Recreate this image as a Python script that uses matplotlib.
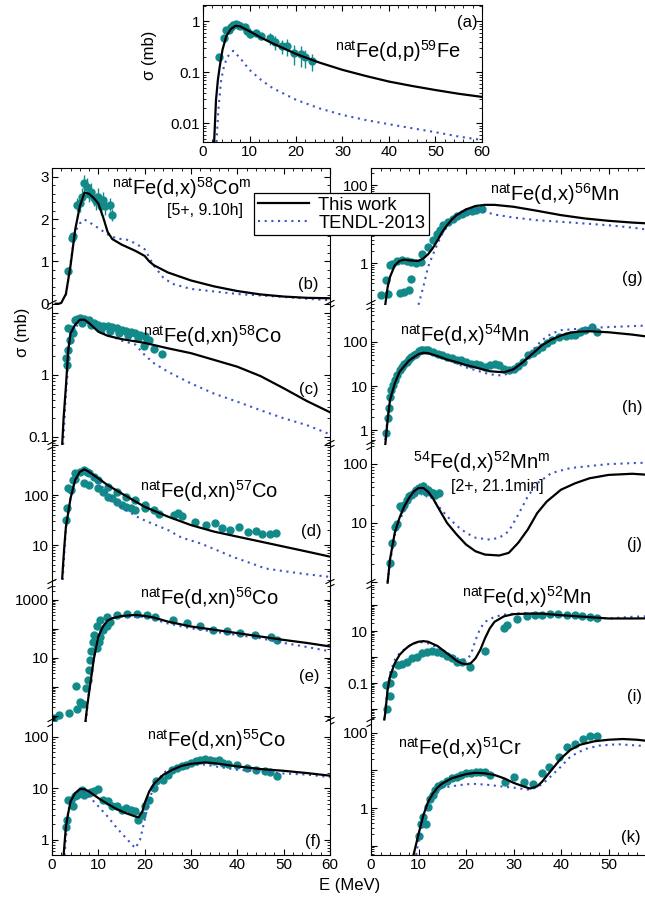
import numpy as np
import matplotlib.pyplot as plt
from matplotlib.ticker import LogLocator, MultipleLocator, NullFormatter

plt.rcParams['font.family'] = ['Liberation Sans', 'DejaVu Sans']
plt.rcParams['mathtext.fontset'] = 'custom'
plt.rcParams['mathtext.rm'] = 'Liberation Sans'
plt.rcParams['mathtext.it'] = 'Liberation Sans:italic'
plt.rcParams['mathtext.bf'] = 'Liberation Sans:bold'
plt.rcParams['axes.linewidth'] = 0.8

FIT_C = 'black'
TENDL_C = '#3a55c8'
EXP_C = '#138a8a'

# ---------------- (a) natFe(d,p)59Fe
a_E_fit = [2.4, 2.8, 3.2, 3.6, 4.2, 5, 6, 7, 8, 10, 12.5, 15, 20, 25, 30, 35, 40, 45, 50, 55, 60]
a_fit = [0.0044, 0.029, 0.071, 0.13, 0.28, 0.51, 0.71, 0.82, 0.80, 0.64, 0.48, 0.37, 0.23, 0.156,
         0.112, 0.085, 0.066, 0.054, 0.045, 0.038, 0.033]
a_E_tendl = [2.9, 3.3, 3.9, 4.5, 5.2, 6.5, 8, 10, 12.5, 15, 20, 25, 30, 35, 40, 45, 50, 55, 60]
a_tendl = [0.0043, 0.018, 0.071, 0.13, 0.2, 0.265, 0.19, 0.112, 0.071, 0.049, 0.029, 0.0197,
           0.0146, 0.0116, 0.0096, 0.008, 0.0067, 0.0055, 0.0047]
a_E_exp = [3.4, 4.5, 5.0, 5.5, 6.0, 6.5, 7.0, 7.5, 8.0, 9.0, 9.5, 10.0, 11.5, 12.5, 14.5, 15.5,
           17.0, 18.0, 19.5, 21.0, 22.0, 23.5]
a_exp = [0.2, 0.47, 0.68, 0.68, 0.77, 0.84, 0.9, 0.86, 0.8, 0.78, 0.64, 0.57, 0.58, 0.52, 0.47,
         0.39, 0.33, 0.33, 0.24, 0.23, 0.2, 0.165]
a_err = [0.03, 0.06, 0.08, 0.08, 0.1, 0.1, 0.12, 0.12, 0.1, 0.1, 0.1, 0.1, 0.08, 0.08, 0.12, 0.12,
         0.1, 0.12, 0.1, 0.1, 0.08, 0.06]

# ---------------- (b) natFe(d,x)58Co^m
b_E_fit = [0.8, 1.5, 2, 3, 4, 5, 6, 7, 8, 9, 10, 11, 12, 13, 15, 18, 20, 21, 22, 25, 30, 35, 40,
           45, 50, 55, 60]
b_fit = [0.0, 0.0, 0.02, 0.23, 0.9, 1.75, 2.3, 2.63, 2.6, 2.5, 2.37, 2.06, 1.7, 1.53, 1.4, 1.25,
         1.13, 1.0, 0.91, 0.74, 0.55, 0.41, 0.3, 0.22, 0.17, 0.14, 0.13]
b_E_tendl = [3, 3.5, 4, 5, 6, 7, 8, 10, 12, 14, 16, 18, 20, 22, 24, 26, 30, 35, 40, 50, 60]
b_tendl = [0.2, 0.55, 0.97, 1.7, 1.9, 1.99, 1.93, 1.79, 1.64, 1.54, 1.52, 1.43, 1.29, 0.9, 0.62,
           0.47, 0.35, 0.29, 0.23, 0.16, 0.08]
b_E_exp = [3.5, 4.3, 4.6, 5.5, 6.0, 6.5, 7.0, 7.5, 8.0, 8.5, 9.0, 9.5, 10.0, 10.5, 11.0, 11.5,
           12.5, 13.0]
b_exp = [0.78, 1.56, 1.6, 2.34, 2.38, 2.53, 2.85, 2.77, 2.6, 2.65, 2.5, 2.42, 2.53, 2.3, 2.45, 2.3,
         2.34, 2.1]
b_err = [0.05, 0.08, 0.08, 0.15, 0.2, 0.2, 0.2, 0.2, 0.2, 0.2, 0.2, 0.2, 0.2, 0.2, 0.2, 0.2, 0.15,
         0.15]

# ---------------- (c) natFe(d,xn)58Co
c_E_fit = [2.2, 2.5, 3, 3.5, 4, 5, 6, 7, 8, 10, 12, 15, 20, 25, 30, 35, 40, 45, 50, 55, 60]
c_fit = [0.075, 0.2, 0.65, 2.5, 4.7, 6.5, 7.8, 7.8, 6.9, 5.0, 4.3, 3.8, 3.3, 2.7, 2.25, 1.75, 1.36,
         0.96, 0.61, 0.38, 0.25]
c_E_tendl = [2.4, 3, 4, 6, 7, 10, 15, 18, 20, 22, 25, 30, 35, 40, 45, 50, 55, 60]
c_tendl = [0.075, 0.5, 4.2, 7.5, 7.5, 5.2, 3.6, 3.1, 2.1, 1.55, 1.13, 0.73, 0.5, 0.37, 0.27, 0.2,
           0.155, 0.11]
c_E_exp = [3.0, 3.3, 3.5, 3.5, 3.8, 4.0, 4.5, 5.0, 5.5, 6.0, 7.0, 8.0, 9.0, 10, 11, 12, 13, 14, 15,
           16, 17, 18, 19, 20, 21, 19.8, 22, 23.7, 6.5, 8.5, 10.5, 12.5, 14.5, 16.5, 18.5, 20.5]
c_exp = [1.86, 1.45, 2.54, 5.7, 3.7, 5.5, 4.7, 7.8, 8.0, 8.3, 8.0, 7.6, 6.9, 6.5, 6.2, 6.1, 5.9, 5.7,
         5.4, 5.2, 5.0, 4.7, 4.5, 4.2, 3.7, 2.9, 2.6, 2.2, 7.0, 6.3, 5.6, 5.2, 4.8, 4.4, 4.0, 3.6]

# ---------------- (d) natFe(d,xn)57Co
d_E_fit = [2.2, 2.6, 3, 4, 5, 6, 7, 8, 10, 12, 15, 20, 25, 30, 35, 40, 45, 50, 55, 60]
d_fit = [2.15, 7.9, 23, 86, 200, 290, 326, 290, 215, 158, 108, 58, 37, 25, 18.5, 14.7, 11.7, 9.3,
         7.4, 5.85]
d_E_tendl = [2.3, 3, 4, 5, 6, 7, 8, 10, 12, 14, 16, 19, 22, 25, 28, 32, 36, 39, 43, 46, 50, 55, 60]
d_tendl = [2.0, 22, 85, 215, 300, 316, 270, 180, 110, 68, 50, 34, 26, 20, 14, 10.8, 7.6, 5.8, 4.3,
           3.4, 3.0, 2.6, 2.3]
d_E_exp = [3.0, 3.3, 3.5, 4.0, 4.5, 5.0, 5.0, 6.0, 7.0, 7.5, 8.0, 9.0, 10, 12, 14, 16, 18, 20, 22,
           7.0, 8.0, 10, 11, 12, 13, 14, 15, 16, 17, 18, 20, 23, 26.4, 27.3, 28, 30.9, 33.3, 35.2,
           36.6, 38.4, 40.4, 42.4, 44, 45.3, 47.1, 48.4]
d_exp = [32, 54, 136, 126, 200, 206, 270, 293, 316, 293, 270, 233, 200, 147, 116, 93, 79, 63, 50,
         171, 158, 136, 116, 93, 86, 74, 63, 58, 54, 50, 54, 42, 40, 43, 38, 29, 25, 27, 21.5, 20,
         22.5, 18.5, 19, 16.6, 16.6, 17.6]

# ---------------- (e) natFe(d,xn)56Co
e_E_fit = [7.2, 7.6, 8, 8.5, 9, 10, 11, 12, 13, 15, 18, 20, 22, 25, 30, 35, 40, 45, 50, 55, 60]
e_fit = [0.06, 0.22, 0.63, 2.35, 8.8, 55, 122, 195, 235, 280, 305, 282, 248, 180, 122, 94, 72, 55,
         42, 33, 25]
e_E_tendl = [7.3, 8, 9, 10, 12, 15, 20, 25, 30, 40, 45, 50, 55, 60]
e_tendl = [0.06, 0.8, 10, 63, 215, 265, 265, 155, 105, 62, 48, 33, 24, 17]
e_E_exp = [0.5, 1.5, 3.6, 5.4, 6.0, 5.2, 6.7, 7.4, 7.7, 7.9, 8.1, 8.4, 8.8, 9.0, 9.7, 10.1, 10.4,
           11.1, 11.9, 12.6, 9.7, 10.4, 11.9, 14, 16.2, 18.3, 20.5, 22.3, 26.2, 29.1, 32, 34.8, 37.7,
           40.6, 43.8, 47.2, 48.5]
e_exp = [0.088, 0.107, 0.13, 0.17, 0.3, 1.1, 0.25, 0.93, 1.8, 4.0, 8.8, 17, 37, 63, 22, 37, 55, 94,
         122, 180, 122, 206, 268, 305, 330, 330, 305, 268, 206, 158, 122, 94, 82, 72, 63, 51, 42]

# ---------------- (f) natFe(d,xn)55Co
f_E_fit = [2.5, 3, 3.5, 4, 5, 6, 7, 8, 10, 12, 14, 16, 18, 18.7, 19.5, 20, 21, 22, 24, 26, 28, 30,
           33, 35, 40, 45, 50, 55, 60]
f_fit = [0.5, 1.8, 3.3, 5.6, 8.1, 9.7, 9.7, 8.7, 6.5, 5.0, 3.96, 3.3, 2.85, 2.75, 3.56, 5.2, 8.8,
         12.3, 18.4, 23, 27.5, 30, 32, 31, 26.8, 23.8, 22, 19.9, 17.7]
f_E_tendl = [2.7, 3.5, 5, 6, 7, 8, 10, 12, 14, 16, 17, 18, 19, 20, 21, 22, 24, 26, 28, 30, 33, 35,
             40, 45, 50, 55, 60]
f_tendl = [0.5, 3.8, 8.1, 9.4, 8.7, 7, 4.5, 2.85, 1.7, 1.08, 0.86, 0.69, 1.0, 2.45, 6, 11, 20, 25,
           28, 29, 29, 27, 23, 21.5, 19.5, 18.6, 16.6]
f_E_exp = [3, 3.2, 3.5, 4, 4.5, 5, 5.5, 6, 6.5, 7, 8, 8.5, 9, 10, 11, 12, 13, 14, 15, 16, 17, 18,
           18.5, 19.5, 20, 21, 22, 22.5, 24, 25, 26, 27, 28, 29, 30, 31, 32, 33, 34, 35, 36, 37, 38,
           40, 42, 44, 46, 47, 48.5]
f_exp = [1.8, 2.45, 6.0, 6.0, 4.5, 7.0, 7.5, 8.1, 9.4, 7.5, 8.1, 8.7, 9.1, 9.7, 6.0, 5.6, 4.6, 4.5,
         3.8, 4.1, 3.8, 3.6, 2.45, 3.1, 4.5, 6.0, 10.1, 13.7, 14.8, 18.5, 23, 24.8, 26.8, 29, 31,
         33.5, 36, 37, 36, 33.5, 36, 31, 30, 29, 25, 23, 21.5, 20.5, 17.7]

# ---------------- (g) natFe(d,x)56Mn
g_E_fit = [3, 3.5, 4, 5, 6, 7, 8, 9, 10, 11, 12, 13, 14, 15, 16, 17, 18, 20, 22, 24, 26, 30, 35,
           40, 45, 50, 55, 60]
g_fit = [0.085, 0.24, 0.44, 0.87, 1.13, 1.22, 1.17, 1.15, 1.13, 1.3, 1.67, 2.4, 3.8, 6.3, 9.3, 13,
         16.9, 23.6, 29, 31, 31, 27.7, 21.8, 16.9, 13.9, 12.1, 10.9, 10.1]
g_E_tendl = [10, 11, 12, 13, 14, 15, 16, 18, 20, 22, 24, 26, 30, 35, 40, 45, 50, 55, 60]
g_tendl = [0.085, 0.24, 0.79, 1.6, 3.1, 5.7, 8.5, 15, 22, 25, 20.6, 17.5, 14.7, 12.5, 11.4, 10.3,
           9.3, 8.1, 6.7]
g_E_exp = [2.0, 3.2, 4.0, 4.5, 5.5, 6.5, 7.5, 8.5, 9.5, 10.5, 3.5, 6.0, 7.0, 8.0, 8.5, 10.7, 12.0,
           13.1, 13.8, 14.5, 15.2, 16.3, 17.2, 18.0, 19.1, 20.1, 21.2, 22.1, 23.3]
g_exp = [0.15, 0.36, 0.87, 0.95, 1.1, 1.2, 1.1, 1.05, 1.0, 1.05, 0.16, 0.17, 0.18, 0.2, 0.4, 1.74,
         2.6, 3.8, 5.7, 6.9, 9.3, 11.4, 13.8, 15.9, 18.6, 20.6, 21.8, 22.7, 23.6]

# ---------------- (h) natFe(d,x)54Mn
h_E_fit = [3, 3.5, 4, 5, 6, 8, 10, 11, 12, 14, 16, 18, 20, 22, 25, 28, 30, 32, 34, 36, 38, 40, 42,
           44, 46, 50, 55, 60]
h_fit = [0.46, 1.7, 4.8, 11.4, 21, 38, 53, 57, 56, 48, 40, 35, 30, 26.5, 21.7, 20.5, 24, 35, 54, 84,
         113, 140, 163, 172, 175, 166, 147, 125]
h_E_tendl = [3, 3.5, 4, 6, 10, 12, 15, 20, 25, 27.5, 30, 32, 34, 36, 38, 40, 45, 50, 60]
h_tendl = [0.6, 2, 5, 22, 55, 55, 44, 26.5, 18.5, 17.3, 21, 32, 65, 110, 155, 185, 205, 218, 240]
h_E_exp = [3.2, 3.5, 3.8, 4.0, 4.3, 4.6, 5, 5.5, 6, 6.5, 7, 7.5, 8, 8.5, 9, 9.5, 10, 10.5, 11, 11.5,
           12, 13, 14, 15, 16, 17, 18, 19, 20, 21, 22, 23, 24, 25, 26, 27, 28, 29, 30, 31, 32, 33,
           34, 35, 36, 37, 38, 39.5, 41, 42, 43, 44, 45, 46.5, 47.5]
h_exp = [0.84, 1.84, 3.1, 5.7, 8.1, 10.4, 13.5, 17.6, 22.8, 27, 32, 35, 42, 46, 50, 54, 63, 65, 67,
         67, 65, 59, 54, 50, 46, 44, 40, 38, 35, 32, 31, 30, 27, 30, 32, 30, 25, 23, 25, 28, 35, 50,
         56, 67, 77, 95, 113, 130, 134, 141, 141, 168, 184, 218, 168]

# ---------------- (j) 54Fe(d,x)52Mn^m
j_E_fit = [3.5, 4, 5, 6, 7, 8, 9, 10, 11, 12, 13, 14, 16, 18, 20, 22, 24, 27, 29, 31, 33, 35, 37,
           40, 43, 46, 50, 55, 60]
j_fit = [0.97, 2.4, 6.8, 12.2, 19, 26.4, 34, 39, 39, 34, 26.4, 19, 10, 6.4, 4.3, 3.3, 2.9, 2.8, 3.1,
         4.6, 7.7, 14.7, 23, 36.5, 47, 57, 65, 68, 64]
j_E_tendl = [3.5, 4, 5, 6, 8, 10, 12, 14, 16, 18, 20, 22, 25, 27, 29, 31, 33, 35, 38, 42, 46, 50,
             55, 60]
j_tendl = [1.0, 2.1, 6.2, 11, 24, 36, 31, 20, 13, 9, 6.8, 5.6, 5.2, 5.6, 7.2, 13.8, 28, 47, 70, 85,
           92, 99, 103, 106]
j_E_exp = [4.0, 4.5, 5.0, 5.5, 6.0, 6.5, 7.0, 7.5, 8.0, 8.5, 9.0, 9.5, 10.0, 10.5, 11.0, 11.5, 12.0,
           12.5, 13.0, 13.5, 14.3]
j_exp = [2.1, 4.6, 8.6, 9.4, 19, 17.9, 20, 24.7, 28, 30, 32, 36.5, 39, 36.5, 41.5, 34, 36.5, 34, 32,
         30, 32]
j_err = [0.3, 0.8, 1.5, 1.5, 3, 3, 3, 4, 5, 5, 6, 7, 8, 7, 8, 7, 7, 6, 6, 5, 5]

# ---------------- (i) natFe(d,x)52Mn
i_E_fit = [2.8, 3, 3.5, 4, 5, 6, 7, 8, 9, 10, 11, 12, 14, 16, 18, 19, 20, 21, 22, 23, 24, 25, 26,
           28, 30, 33, 36, 40, 45, 50, 55, 60]
i_fit = [0.004, 0.007, 0.056, 0.18, 0.58, 1.21, 1.88, 2.67, 3.38, 3.9, 4.1, 3.9, 2.67, 1.4, 0.73,
         0.58, 0.53, 0.58, 0.9, 1.88, 5.3, 12.6, 22.7, 37, 44.7, 46.8, 46.8, 40.8, 35.3, 30.5, 30.5,
         31]
i_E_tendl = [2.8, 3.5, 4, 5, 6, 8, 10, 12, 14, 16, 18, 20, 21, 22, 23, 24, 26, 28, 32, 40, 45, 50,
             55, 60]
i_tendl = [0.004, 0.065, 0.24, 0.78, 1.4, 2.67, 3.9, 3.38, 2.37, 1.32, 0.9, 0.78, 1.21, 4.5, 12.6,
           22.7, 35.3, 43, 50, 41, 35.3, 30.5, 35.3, 38.5]
i_E_exp = [3.3, 3.2, 3.9, 4.0, 4.7, 5.75, 6.5, 7.5, 8.6, 9.6, 10.7, 11.7, 12.8, 13.8, 14.9, 15.9,
           17, 18, 19.1, 20.8, 24, 27.9, 28.6, 30.7, 32.8, 34.5, 35.9, 37.7, 39.4, 41.2, 42.9, 44.4,
           46.1, 47.5]
i_exp = [0.01, 0.087, 0.031, 0.105, 0.23, 0.5, 0.53, 0.67, 0.9, 1.05, 1.4, 1.6, 1.7, 1.6, 1.4, 1.1,
         0.9, 0.67, 0.62, 0.41, 1.77, 12.6, 17, 27.9, 37.5, 40.8, 40.8, 47, 47, 40.8, 40.8, 37.5,
         35.3, 30.5]

# ---------------- (k) natFe(d,x)51Cr
k_E_fit = [8.9, 10, 11, 12, 13, 14, 15, 17, 20, 22, 24, 26, 28, 30, 32, 33.5, 35, 36, 38, 40, 42,
           44, 47, 50, 53, 56, 60]
k_fit = [0.053, 0.2, 0.63, 1.45, 2.4, 3.5, 4.5, 6.2, 8.0, 8.7, 8.4, 7.6, 6.2, 4.7, 3.8, 3.3, 3.8,
         5.0, 10.3, 21, 35.6, 48.5, 60, 66, 69, 66, 58]
k_E_tendl = [9.5, 10, 11, 12, 13, 14, 15, 17, 20, 22, 25, 28, 30, 33, 35, 37, 40, 42, 45, 48, 52, 60]
k_tendl = [0.056, 0.13, 0.52, 1.3, 2.2, 3.0, 3.5, 3.8, 4.3, 4.4, 4.1, 3.7, 3.5, 3.1, 3.5, 5.5, 12.7,
           23.6, 37, 46, 50, 43]
k_E_exp = [10, 10.5, 11, 11.5, 12, 12.5, 13, 13.5, 14, 15, 16, 17, 18, 19, 20, 21, 22, 23, 24, 25,
           28.2, 30.1, 32.2, 34.2, 35.9, 37.5, 39.6, 41.3, 43, 44.6, 46.1, 47.5]
k_exp = [0.18, 0.38, 0.57, 0.38, 1.06, 1.78, 2.2, 3.0, 3.8, 4.5, 5.3, 6.2, 6.8, 7.6, 8.4, 8.8, 9.3,
         9.3, 9.3, 7.6, 5.0, 6.8, 5.0, 4.5, 8.4, 12.7, 23.6, 42, 50.5, 69, 81, 85]

W, H = 645, 897
fig = plt.figure(figsize=(W / 100, H / 100), dpi=100)


def box(l, t, r, b):
    return [l / W, 1 - b / H, (r - l) / W, (b - t) / H]


def style(ax, ylim, yticks, ylabels, log=True, xlabels=False, xlab60=True):
    ax.set_xlim(0, 60)
    ax.set_xticks([0, 10, 20, 30, 40, 50, 60],
                  ['0', '10', '20', '30', '40', '50', '60' if xlab60 else ''])
    ax.xaxis.set_minor_locator(MultipleLocator(2))
    if log:
        ax.set_yscale('log')
    ax.set_yticks(yticks, ylabels)
    if log:
        ax.yaxis.set_minor_locator(LogLocator(base=10, subs=np.arange(2, 10), numticks=30))
        ax.yaxis.set_minor_formatter(NullFormatter())
    else:
        ax.yaxis.set_minor_locator(MultipleLocator(0.2))
    ax.set_xlim(0, 60)
    ax.set_ylim(*ylim)
    ax.tick_params(which='both', direction='in', top=True, right=True, labelsize=11, pad=2)
    ax.tick_params(which='major', length=4)
    ax.tick_params(which='minor', length=2)
    if not xlabels:
        ax.tick_params(labelbottom=False)


def draw(ax, Ef, vf, Et, vt, Ee, ve, yerr=None):
    l1, = ax.plot(Ef, vf, color=FIT_C, lw=1.6, label='This work', zorder=3)
    l2, = ax.plot(Et, vt, color=TENDL_C, lw=1.5, ls=(0, (1, 2.2)), label='TENDL-2013', zorder=2)
    if yerr is None:
        ax.plot(Ee, ve, 'o', color=EXP_C, ms=5, zorder=1)
    else:
        ax.errorbar(Ee, ve, yerr=yerr, fmt='o', color=EXP_C, ms=5, elinewidth=1, capsize=0, zorder=1)
    return l1, l2


def breaks(ax, wpx, hpx):
    # small "//" marks where the stacked panels meet
    dx, dy, g = 4.0 / wpx, 2.0 / hpx, 2.5 / hpx
    for x in (0, 1):
        for off in (-g, g):
            ax.plot([x - dx, x + dx], [off - dy, off + dy], transform=ax.transAxes,
                    color='k', lw=0.8, clip_on=False, zorder=6)


# ---------------- panel (a)
ax = fig.add_axes(box(203, 5, 482, 142))
draw(ax, a_E_fit, a_fit, a_E_tendl, a_tendl, a_E_exp, a_exp, a_err)
style(ax, (0.0043, 2.1), [0.01, 0.1, 1], ['0.01', '0.1', '1'], xlabels=True)
ax.set_ylabel('σ (mb)', fontsize=12)
ax.yaxis.set_label_coords(-0.165, 0.63)

rows = [(168, 305), (305, 445), (445, 584), (584, 722), (722, 855)]
left_col = (52, 330)
right_col = (371, 656)

panels = [
    # column, row, data, ylim, ticks, labels, log, err
    (left_col, 0, (b_E_fit, b_fit, b_E_tendl, b_tendl, b_E_exp, b_exp), (-0.03, 3.21),
     [0, 1, 2, 3], ['0', '1', '2', '3'], False, b_err),
    (left_col, 1, (c_E_fit, c_fit, c_E_tendl, c_tendl, c_E_exp, c_exp), (0.074, 13.5),
     [0.1, 1, 10], ['0.1', '1', ''], True, None),
    (left_col, 2, (d_E_fit, d_fit, d_E_tendl, d_tendl, d_E_exp, d_exp), (1.66, 1000),
     [10, 100, 1000], ['10', '100', ''], True, None),
    (left_col, 3, (e_E_fit, e_fit, e_E_tendl, e_tendl, e_E_exp, e_exp), (0.062, 3560),
     [0.1, 1, 10, 100, 1000], ['', '', '10', '', '1000'], True, None),
    (left_col, 4, (f_E_fit, f_fit, f_E_tendl, f_tendl, f_E_exp, f_exp), (0.51, 195),
     [1, 10, 100], ['1', '10', '100'], True, None),
    (right_col, 0, (g_E_fit, g_fit, g_E_tendl, g_tendl, g_E_exp, g_exp), (0.084, 273),
     [1, 10, 100], ['1', '', '100'], True, None),
    (right_col, 1, (h_E_fit, h_fit, h_E_tendl, h_tendl, h_E_exp, h_exp), (0.46, 690),
     [1, 10, 100], ['1', '10', '100'], True, None),
    (right_col, 2, (j_E_fit, j_fit, j_E_tendl, j_tendl, j_E_exp, j_exp), (0.92, 209),
     [1, 10, 100], ['', '10', '100'], True, j_err),
    (right_col, 3, (i_E_fit, i_fit, i_E_tendl, i_tendl, i_E_exp, i_exp), (0.0032, 645),
     [0.01, 0.1, 1, 10, 100], ['', '0.1', '', '10', ''], True, None),
    (right_col, 4, (k_E_fit, k_fit, k_E_tendl, k_tendl, k_E_exp, k_exp), (0.056, 196),
     [0.1, 1, 10, 100], ['', '1', '', '100'], True, None),
]

handles = None
for col, r, dat, ylim, ticks, labels, log, err in panels:
    top, bot = rows[r]
    ax = fig.add_axes(box(col[0], top, col[1], bot))
    hl = draw(ax, *dat, yerr=err)
    if handles is None:
        handles = hl
    style(ax, ylim, ticks, labels, log=log, xlabels=(r == 4), xlab60=(col is left_col))
    if r > 0:
        ax.spines['top'].set_visible(False)
        ax.tick_params(which='both', top=False)
    if r < 4:
        ax.spines['bottom'].set_visible(False)
        ax.tick_params(which='both', bottom=False)
        breaks(ax, col[1] - col[0], bot - top)

# ---------------- reaction labels
def flab(x, y, s, size=14.5, ha='left'):
    fig.text(x / W, 1 - y / H, s, fontsize=size, ha=ha, va='center')


flab(335, 51, r'$^{\mathrm{nat}}$Fe(d,p)$^{59}$Fe')
flab(112, 188, r'$^{\mathrm{nat}}$Fe(d,x)$^{58}$Co$^{\mathrm{m}}$')
flab(205, 211, '[5+, 9.10h]', size=11.5, ha='center')
flab(143, 336, r'$^{\mathrm{nat}}$Fe(d,xn)$^{58}$Co')
flab(140, 491, r'$^{\mathrm{nat}}$Fe(d,xn)$^{57}$Co')
flab(140, 598, r'$^{\mathrm{nat}}$Fe(d,xn)$^{56}$Co')
flab(147, 740, r'$^{\mathrm{nat}}$Fe(d,xn)$^{55}$Co')
flab(490, 194, r'$^{\mathrm{nat}}$Fe(d,x)$^{56}$Mn')
flab(400, 335, r'$^{\mathrm{nat}}$Fe(d,x)$^{54}$Mn')
flab(413, 462, r'$^{54}$Fe(d,x)$^{52}$Mn$^{\mathrm{m}}$')
flab(497, 486, '[2+, 21.1min]', size=11.5, ha='center')
flab(462, 597, r'$^{\mathrm{nat}}$Fe(d,x)$^{52}$Mn')
flab(398, 748, r'$^{\mathrm{nat}}$Fe(d,x)$^{51}$Cr')

# panel letters
for s, x, y in [('(a)', 467, 22), ('(b)', 308, 285), ('(c)', 309, 389), ('(d)', 311, 531),
                ('(e)', 309, 677), ('(f)', 313, 841), ('(g)', 632, 278), ('(h)', 632, 407),
                ('(j)', 634, 545), ('(i)', 634, 696), ('(k)', 631, 837)]:
    flab(x, y, s, size=12, ha='center')

fig.text(22 / W, 1 - 332 / H, 'σ (mb)', fontsize=12, rotation=90, ha='center', va='center')
fig.text(350 / W, 1 - 885 / H, 'E (MeV)', fontsize=12, ha='center', va='center')

leg = fig.legend(handles=list(handles), loc='upper left', bbox_to_anchor=(254 / W, 1 - 193 / H),
                 frameon=True, fancybox=False, edgecolor='k', framealpha=1, fontsize=13.2,
                 handlelength=2.8, borderaxespad=0, borderpad=0.2, labelspacing=0.05,
                 handletextpad=0.5)
leg.get_frame().set_linewidth(0.9)

fig.savefig('out.png', dpi=100)
